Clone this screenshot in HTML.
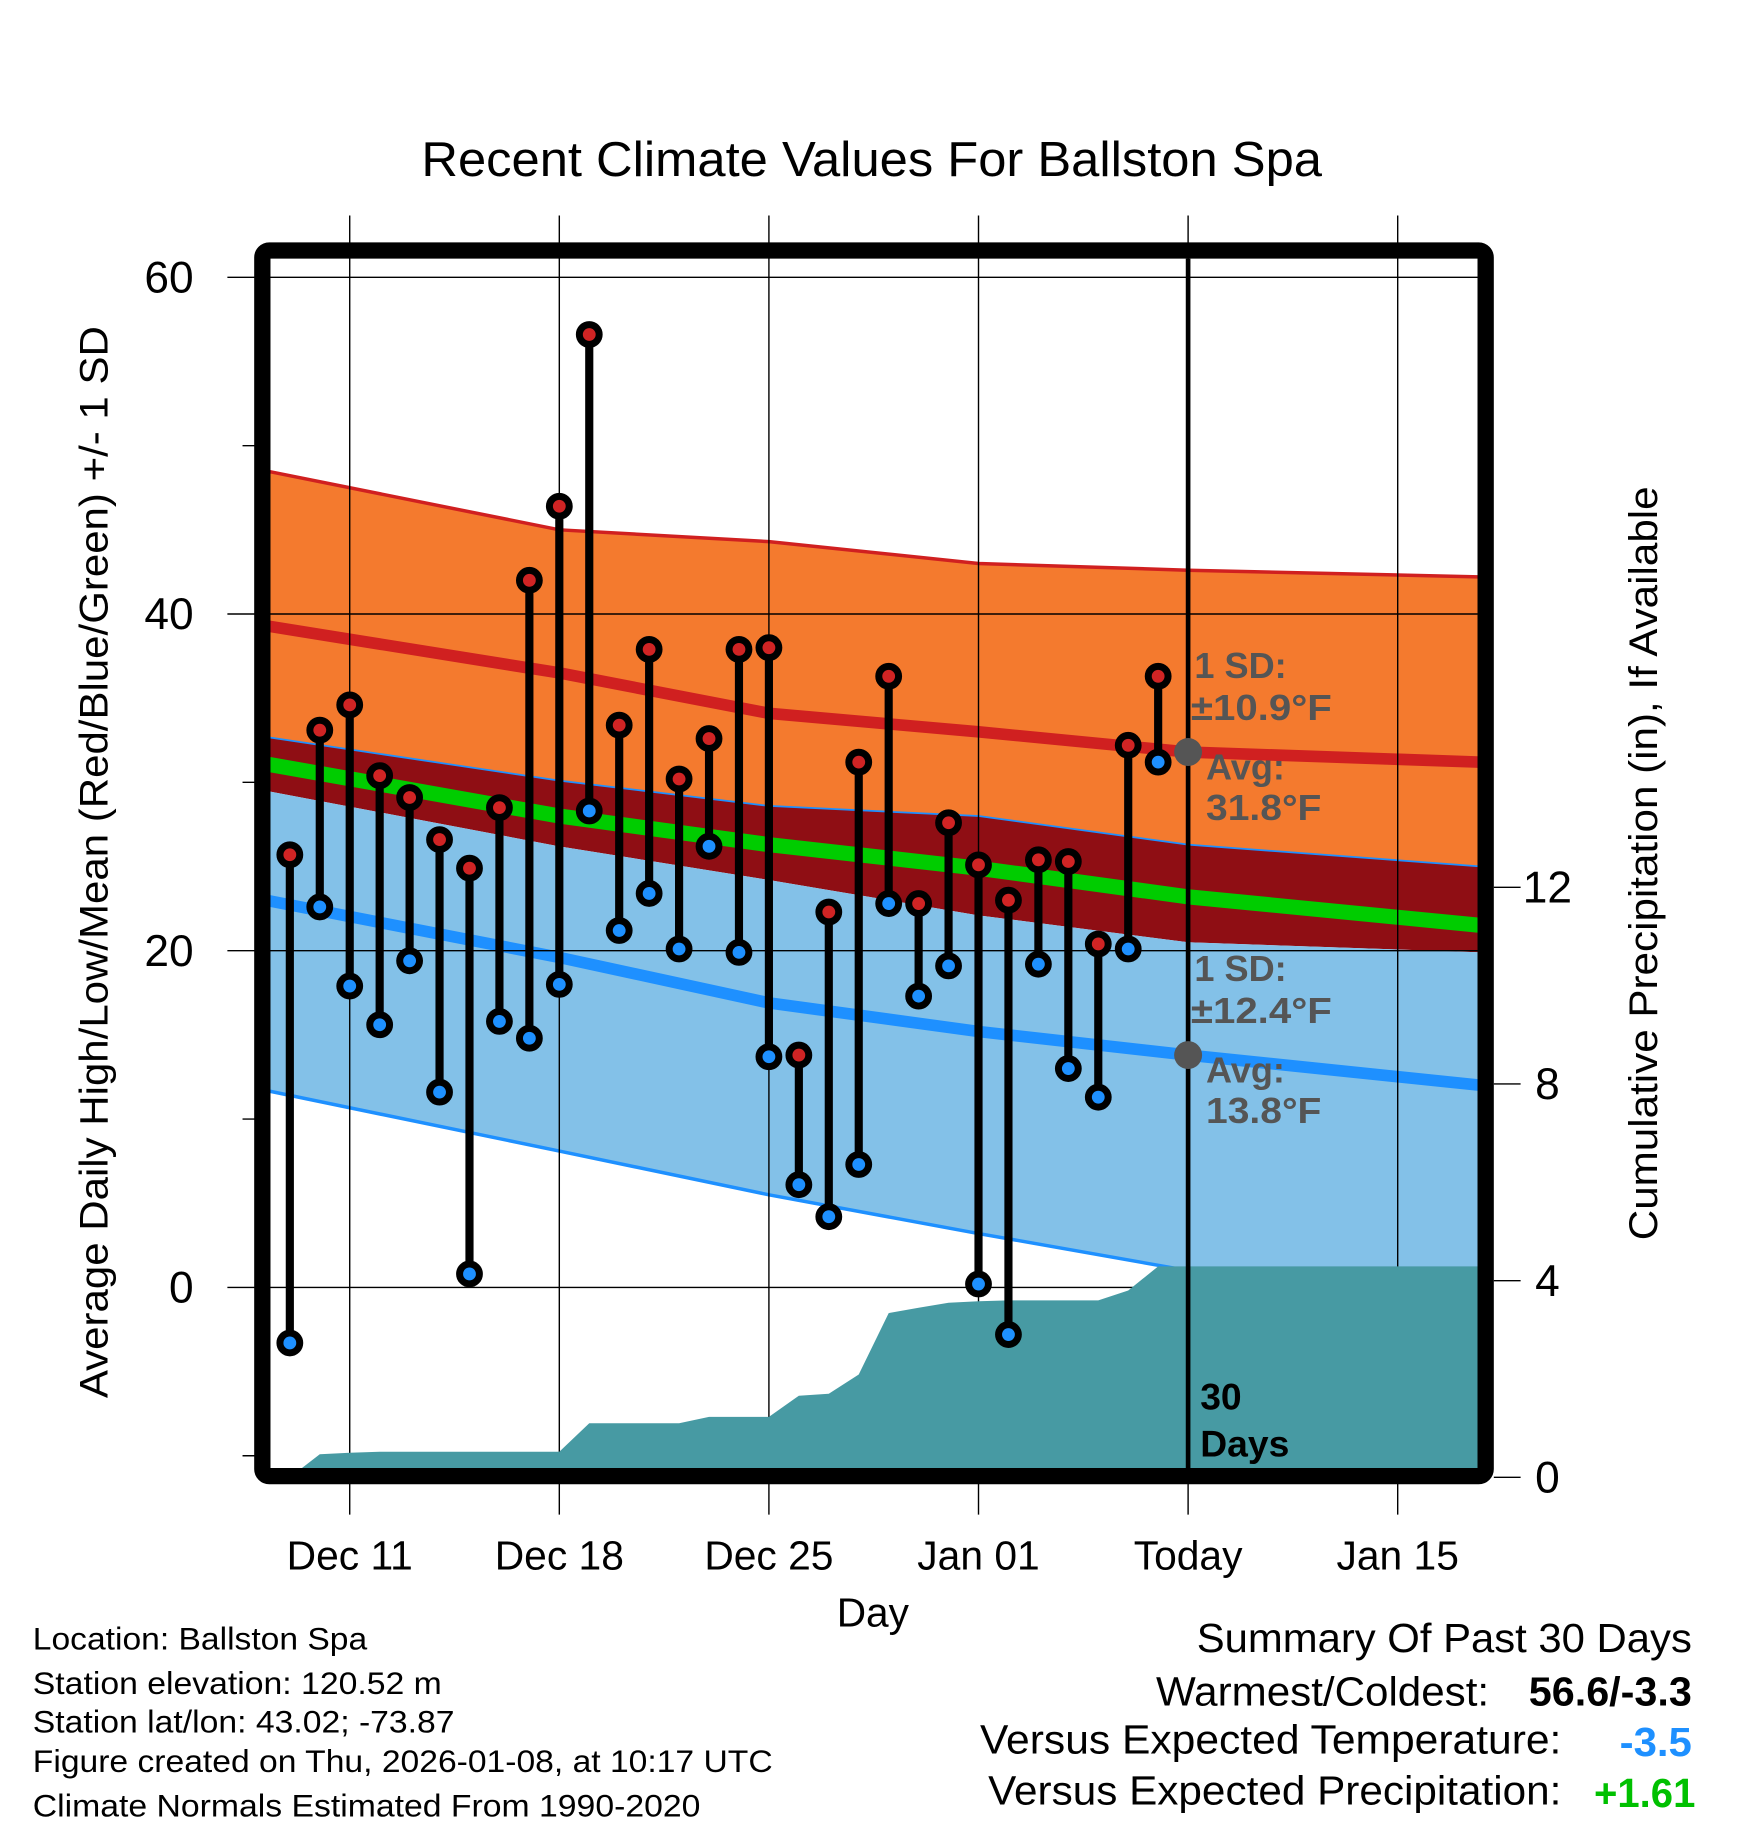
<!DOCTYPE html>
<html><head><meta charset="utf-8"><style>
html,body{margin:0;padding:0;background:#fff}
svg{display:block}
text{font-family:"Liberation Sans",sans-serif}
</style></head><body>
<svg id="chart" xmlns="http://www.w3.org/2000/svg" width="1748" height="1828" viewBox="0 0 1500 1569">
<defs><clipPath id="pc"><rect x="231" y="222" width="1037" height="1038"/></clipPath></defs>
<rect width="1500" height="1569" fill="#fff"/>
<text x="748" y="151" font-size="42" text-anchor="middle" textLength="773" lengthAdjust="spacingAndGlyphs">Recent Climate Values For Ballston Spa</text>
<g id="plot" clip-path="url(#pc)"></g>
<g id="over"></g>
</svg>
<script>
// ---- data ----
const dayLabels = ["Dec 09","Dec 10","Dec 11","Dec 12","Dec 13","Dec 14","Dec 15","Dec 16","Dec 17","Dec 18","Dec 19","Dec 20","Dec 21","Dec 22","Dec 23","Dec 24","Dec 25","Dec 26","Dec 27","Dec 28","Dec 29","Dec 30","Dec 31","Jan 01","Jan 02","Jan 03","Jan 04","Jan 05","Jan 06","Jan 07"];
const highs = [25.7,33.1,34.6,30.4,29.1,26.6,24.9,28.5,42.0,46.4,56.6,33.4,37.9,30.2,32.6,37.9,38.0,13.8,22.3,31.2,36.3,22.8,27.6,25.1,23.0,25.4,25.3,20.4,32.2,36.3];
const lows = [-3.3,22.6,17.9,15.6,19.4,11.6,0.8,15.8,14.8,18.0,28.3,21.2,23.4,20.1,26.2,19.9,13.7,6.1,4.2,7.3,22.8,17.3,19.1,0.2,-2.8,19.2,13.0,11.3,20.1,31.2];
const precipCum = [0,0.47,0.5,0.52,0.52,0.52,0.52,0.52,0.52,0.52,1.1,1.1,1.1,1.1,1.23,1.23,1.23,1.66,1.7,2.09,3.34,3.45,3.55,3.58,3.6,3.6,3.6,3.6,3.8,4.29];
const normDays = [-2.8,7,14,21,28,37.8]; // days offset from Dec 11
const highSDup = [48.5,45.0,44.3,43.0,42.6,42.2];
const highMean = [39.3,36.5,34.1,33.0,31.8,31.2];
const highSDlow = [32.7,30.1,28.6,28.0,26.3,25.0];
const meanTemp = [31.1,28.0,26.3,24.9,23.2,21.5];
const lowSDup = [29.5,26.2,24.2,22.1,20.5,19.9];
const lowMean = [23.0,19.6,16.9,15.2,13.8,12.0];
const lowSDlow = [11.7,8.1,5.5,3.2,1.0,-0.5];
const xTickLabels = ["Dec 11","Dec 18","Dec 25","Jan 01","Today","Jan 15"];
const yTicks = [0,20,40,60];
const yMinor = [-10,10,30,50];
const pTicks = [0,4,8,12];
// ---- axes ----
const X = d => 300 + d*25.7;           // d = days since Dec 11
const Y = t => 1105 - t*14.45;
const P = p => 1268 - p*42.2;
const firstDay = -2;
const NS="http://www.w3.org/2000/svg";
const plot=document.getElementById('plot'), over=document.getElementById('over');
function mk(tag,attrs,parent){const e=document.createElementNS(NS,tag);for(const k in attrs)e.setAttribute(k,attrs[k]);parent.appendChild(e);return e;}
function pts(arr){return normDays.map((d,i)=>X(d)+','+Y(arr[i])).join(' ');}
function band(a,b){return normDays.map((d,i)=>X(d)+','+Y(a[i])).join(' ')+' '+normDays.slice().reverse().map((d,j)=>{const i=normDays.length-1-j;return X(d)+','+Y(b[i]);}).join(' ');}

let e;
e=mk('polygon',{points:band(highSDup,highSDlow),fill:'#f47a2e'},plot);


e=mk('polygon',{points:band(highSDlow,lowSDup),fill:'#8f0e14'},plot);


e=mk('polygon',{points:band(lowSDup,lowSDlow),fill:'#83c1e8'},plot);


e=mk('polyline',{points:pts(highSDup),fill:'none',stroke:'#d02020','stroke-width':3},plot);


e=mk('polyline',{points:pts(highSDlow),fill:'none',stroke:'#1e90ff','stroke-width':1.5},plot);


e=mk('polyline',{points:pts(lowSDlow),fill:'none',stroke:'#1e90ff','stroke-width':3},plot);


e=mk('polyline',{points:pts(highMean),fill:'none',stroke:'#d02020','stroke-width':10},plot);


e=mk('polyline',{points:pts(lowMean),fill:'none',stroke:'#1e90ff','stroke-width':10},plot);


e=mk('polyline',{points:pts(meanTemp),fill:'none',stroke:'#00cc00','stroke-width':13},plot);



// gridlines
xTickLabels.forEach((lab,i)=>{
  const x=X(i*7);
  const g=mk('line',{x1:x,x2:x,y1:185,y2:1300,stroke:'#000','stroke-width':1.2},over);
  
  
  const t=mk('text',{x:x,y:1347,'font-size':35,'text-anchor':'middle'},over);
  t.textContent=lab;
  
  
});
yTicks.forEach(v=>{
  const y=Y(v);
  const g=mk('line',{x1:195,x2:1268,y1:y,y2:y,stroke:'#000','stroke-width':1.2},over);
  
  
  const t=mk('text',{x:166,y:y+13,'font-size':38,'text-anchor':'end'},over);
  t.textContent=v;
  
  
});
yMinor.forEach(v=>{
  const y=Y(v);
  const g=mk('line',{x1:208,x2:222,y1:y,y2:y,stroke:'#000','stroke-width':1.2},over);
  
  
});
pTicks.forEach(v=>{
  const y=P(v);
  const g=mk('line',{x1:1282,x2:1305,y1:y,y2:y,stroke:'#000','stroke-width':1.2},over);
  
  
  const t=mk('text',{x:1328,y:y+13,'font-size':38,'text-anchor':'middle'},over);
  t.textContent=v;
  
  
});

// precip area
let pp=[];
precipCum.forEach((p,i)=>pp.push(X(firstDay+i)+','+P(p)));
pp.push('1270,'+P(precipCum[precipCum.length-1]));
pp.push('1270,1262');
pp.push(X(firstDay)+',1262');
e=mk('polygon',{points:pp.join(' '),fill:'#479aa3'},over);



// today line
e=mk('line',{x1:X(28),x2:X(28),y1:222,y2:1262,stroke:'#000','stroke-width':4},over);



e=mk('circle',{cx:X(28),cy:Y(highMean[4]),r:12,fill:'#555'},over);


e=mk('circle',{cx:X(28),cy:Y(lowMean[4]),r:12,fill:'#555'},over);



// stems & dots
highs.forEach((h,i)=>{
  const x=X(firstDay+i);
  const s=mk('line',{x1:x,x2:x,y1:Y(h),y2:Y(lows[i]),stroke:'#000','stroke-width':7},over);
  
  
});
highs.forEach((h,i)=>{
  const x=X(firstDay+i);
  const a=mk('circle',{cx:x,cy:Y(h),r:8.5,fill:'#d02424',stroke:'#000','stroke-width':6},over);
  
  
  const b=mk('circle',{cx:x,cy:Y(lows[i]),r:8.5,fill:'#1e90ff',stroke:'#000','stroke-width':6},over);
  
  
});

// frame
e=mk('rect',{x:225,y:215,width:1050,height:1052,rx:6,fill:'none',stroke:'#000','stroke-width':14},over);


</script>
<svg style="position:absolute;left:0;top:0" width="1748" height="1828" viewBox="0 0 1500 1569">
<g font-family="Liberation Sans, sans-serif" font-weight="bold" fill="#555" font-size="31">
<text x="1025" y="582">1 SD:</text>
<text x="1022" y="618" textLength="121" lengthAdjust="spacingAndGlyphs">±10.9°F</text>
<text x="1035" y="669">Avg:</text>
<text x="1035" y="704" textLength="99" lengthAdjust="spacingAndGlyphs">31.8°F</text>
<text x="1025" y="842">1 SD:</text>
<text x="1022" y="878" textLength="121" lengthAdjust="spacingAndGlyphs">±12.4°F</text>
<text x="1035" y="929">Avg:</text>
<text x="1035" y="964" textLength="99" lengthAdjust="spacingAndGlyphs">13.8°F</text>
</g>
<g font-family="Liberation Sans, sans-serif" font-weight="bold" fill="#000" font-size="32">
<text x="1030" y="1210">30</text>
<text x="1030" y="1250">Days</text>
</g>
<g font-family="Liberation Sans, sans-serif" fill="#000">
<text transform="translate(92,740) rotate(-90)" font-size="34" text-anchor="middle" textLength="920" lengthAdjust="spacingAndGlyphs">Average Daily High/Low/Mean (Red/Blue/Green) +/- 1 SD</text>
<text transform="translate(1422,741) rotate(-90)" font-size="34" text-anchor="middle" textLength="647" lengthAdjust="spacingAndGlyphs">Cumulative Precipitation (in), If Available</text>
<text x="749" y="1396" font-size="35" text-anchor="middle" textLength="62" lengthAdjust="spacingAndGlyphs">Day</text>
<g font-size="27">
<text x="28" y="1416" textLength="287" lengthAdjust="spacingAndGlyphs">Location: Ballston Spa</text>
<text x="28" y="1454" textLength="351" lengthAdjust="spacingAndGlyphs">Station elevation: 120.52 m</text>
<text x="28" y="1487" textLength="362" lengthAdjust="spacingAndGlyphs">Station lat/lon: 43.02; -73.87</text>
<text x="28" y="1521" textLength="635" lengthAdjust="spacingAndGlyphs">Figure created on Thu, 2026-01-08, at 10:17 UTC</text>
<text x="28" y="1559" textLength="573" lengthAdjust="spacingAndGlyphs">Climate Normals Estimated From 1990-2020</text>
</g>
<g font-size="35">
<text x="1027" y="1418" textLength="425" lengthAdjust="spacingAndGlyphs">Summary Of Past 30 Days</text>
<text x="992" y="1464" textLength="286" lengthAdjust="spacingAndGlyphs">Warmest/Coldest:</text>
<text x="1312" y="1464" font-weight="bold" textLength="140" lengthAdjust="spacingAndGlyphs">56.6/-3.3</text>
<text x="841" y="1505" textLength="499" lengthAdjust="spacingAndGlyphs">Versus Expected Temperature:</text>
<text x="1390" y="1507" font-weight="bold" fill="#1e90ff" textLength="62" lengthAdjust="spacingAndGlyphs">-3.5</text>
<text x="848" y="1549" textLength="492" lengthAdjust="spacingAndGlyphs">Versus Expected Precipitation:</text>
<text x="1368" y="1551" font-weight="bold" fill="#00c000" textLength="87" lengthAdjust="spacingAndGlyphs">+1.61</text>
</g>
</g>
</svg>
</body></html>
